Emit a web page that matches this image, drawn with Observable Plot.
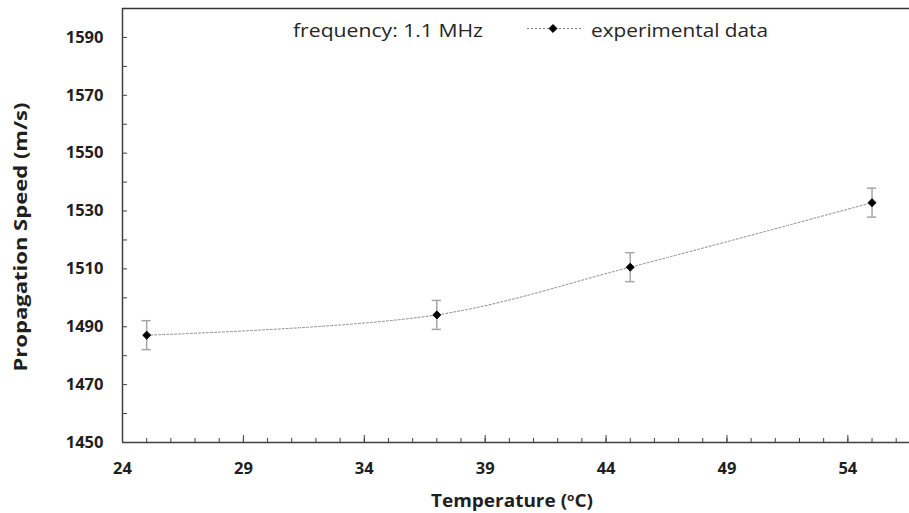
<!DOCTYPE html>
<html>
<head>
<meta charset="utf-8">
<script src="https://cdn.jsdelivr.net/npm/d3@7"></script>
<script src="https://cdn.jsdelivr.net/npm/@observablehq/plot@0.6"></script>
<style>
  html, body { margin: 0; padding: 0; background: #fff; }
  #chart { position: relative; width: 909px; height: 513px; }
  svg { font-family: "Open Sans", sans-serif; }
</style>
</head>
<body>
<div id="chart"></div>
<script>
// ---- data ----
const temperature = [25, 37, 45, 55];                 // °C
const speed       = [1487.1, 1494.1, 1510.6, 1532.9]; // m/s
const errorBar    = [5, 5, 5, 5];                     // ± m/s
const xDomain = [24, 56.55];
const yDomain = [1450, 1600];
const xMajorTicks = [24, 29, 34, 39, 44, 49, 54];
const xMinorTicks = d3.range(24, 57, 1);
const yMajorTicks = [1450, 1470, 1490, 1510, 1530, 1550, 1570, 1590];
const yMinorTicks = d3.range(1450, 1600, 10);
const legendFreq = "frequency: 1.1 MHz";
const legendSeries = "experimental data";

const data = temperature.map((t, i) => ({t, v: speed[i], e: errorBar[i]}));
const axisColor = "#404040";

const chart = Plot.plot({
  width: 909,
  height: 513,
  marginLeft: 122,
  marginRight: 0,
  marginTop: 8,
  marginBottom: 71,
  style: {fontFamily: "'Open Sans', sans-serif", background: "#fff"},
  x: {domain: xDomain, label: null},
  y: {domain: yDomain, label: null},
  marks: [
    // axis ticks (inward)
    Plot.axisY(yMinorTicks, {tickSize: -5, text: null, stroke: axisColor}),
    Plot.axisY(yMajorTicks, {tickSize: 0, tickPadding: 19, fontSize: 16.5, fontWeight: "bold", fill: "#1f1f1f", tickFormat: d => String(d)}),
    Plot.axisX(xMinorTicks, {tickSize: -4, text: null, stroke: axisColor}),
    Plot.axisX(xMajorTicks, {tickSize: -7, text: null, stroke: axisColor}),
    Plot.axisX(xMajorTicks, {tickSize: 0, tickPadding: 20, fontSize: 16.5, fontWeight: "bold", fill: "#1f1f1f", tickFormat: d => String(d)}),
    // frame lines
    Plot.ruleX([xDomain[0]], {stroke: axisColor, strokeWidth: 1.5}),
    Plot.ruleY([yDomain[0]], {stroke: axisColor, strokeWidth: 1.5}),
    Plot.ruleY([yDomain[1]], {stroke: "#333", strokeWidth: 1.5}),
    // smoothed dotted line
    Plot.line(data, {x: "t", y: "v", curve: "catmull-rom", stroke: "#8a8a8a", strokeWidth: 1, strokeDasharray: "2,2"}),
    // error bars
    Plot.ruleX(data, {x: "t", y1: d => d.v - d.e, y2: d => d.v + d.e, stroke: "#a6a6a6", strokeWidth: 1.5}),
    Plot.ruleY(data, {y: d => d.v + d.e, x1: d => d.t - 0.19, x2: d => d.t + 0.19, stroke: "#a6a6a6", strokeWidth: 1.5}),
    Plot.ruleY(data, {y: d => d.v - d.e, x1: d => d.t - 0.19, x2: d => d.t + 0.19, stroke: "#a6a6a6", strokeWidth: 1.5}),
    // markers
    Plot.dot(data, {x: "t", y: "v", symbol: "diamond2", r: 3.6, fill: "#000", stroke: "#000", strokeWidth: 1})
  ]
});

document.getElementById("chart").appendChild(chart);

const svg = d3.select(chart);

// ---- axis titles & legend (real SVG text) ----
const xt = svg.append("text")
  .attr("x", 512).attr("y", 507)
  .attr("text-anchor", "middle")
  .attr("textLength", 162).attr("lengthAdjust", "spacingAndGlyphs")
  .attr("font-size", 17.5).attr("font-weight", "bold").attr("fill", "#1f1f1f");
xt.append("tspan").text("Temperature (");
xt.append("tspan").text("o").attr("font-size", 11).attr("dy", -6);
xt.append("tspan").text("C)").attr("dy", 6);

svg.append("text")
  .attr("transform", "translate(27,237) rotate(-90)")
  .attr("text-anchor", "middle")
  .attr("textLength", 269).attr("lengthAdjust", "spacingAndGlyphs")
  .attr("font-size", 18).attr("font-weight", "bold").attr("fill", "#1f1f1f")
  .text("Propagation Speed (m/s)");

// legend
svg.append("text")
  .attr("x", 293).attr("y", 36.5)
  .attr("text-anchor", "start")
  .attr("textLength", 190).attr("lengthAdjust", "spacingAndGlyphs")
  .attr("font-size", 18).attr("fill", "#262626")
  .text(legendFreq);
const lg = svg.append("g").attr("transform", "translate(527,28.5)");
lg.append("line").attr("x1", 0).attr("x2", 56).attr("y1", 0).attr("y2", 0)
  .attr("stroke", "#7a7a7a").attr("stroke-width", 1.2).attr("stroke-dasharray", "2,2");
lg.append("path").attr("d", d3.symbol(d3.symbolDiamond2, 40)()).attr("transform", "translate(26,0)")
  .attr("fill", "#000").attr("stroke", "#000");
lg.append("text").attr("x", 64).attr("y", 8)
  .attr("text-anchor", "start")
  .attr("textLength", 177).attr("lengthAdjust", "spacingAndGlyphs")
  .attr("font-size", 18).attr("fill", "#262626")
  .text(legendSeries);
</script>
</body>
</html>
